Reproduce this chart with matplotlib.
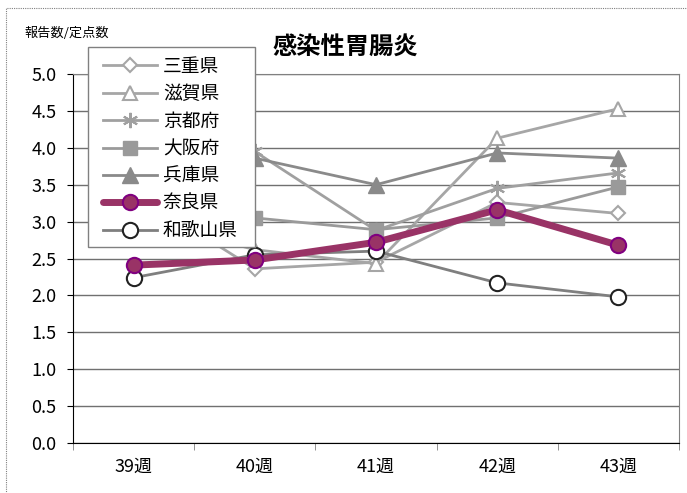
import matplotlib
matplotlib.use("Agg")
import matplotlib.pyplot as plt
from matplotlib.patches import Rectangle

plt.rcParams['font.family'] = ['Noto Sans CJK JP', 'DejaVu Sans']

weeks = ["39週", "40週", "41週", "42週", "43週"]
mie = [3.40, 2.36, 2.45, 3.26, 3.11]
shiga = [3.05, 2.62, 2.43, 4.13, 4.53]
kyoto = [3.30, 3.95, 2.88, 3.45, 3.66]
osaka = [3.10, 3.05, 2.89, 3.05, 3.47]
hyogo = [3.45, 3.86, 3.50, 3.93, 3.86]
nara = [2.41, 2.48, 2.72, 3.16, 2.68]
wakayama = [2.24, 2.55, 2.60, 2.17, 1.98]
labels = ["三重県", "滋賀県", "京都府", "大阪府", "兵庫県", "奈良県", "和歌山県"]
title = "感染性胃腸炎"
ylabel = "報告数/定点数"

W, H = 687, 493
fig = plt.figure(figsize=(W/100, H/100), dpi=100)
ax = fig.add_axes([73/W, 1-443/H, (679-73)/W, (443-74)/H])

x = list(range(len(weeks)))
ax.plot(x, mie, color='#a6a6a6', lw=2, marker='D', ms=7, mfc='white', mec='#a6a6a6', mew=1.5, label=labels[0], zorder=3)
ax.plot(x, shiga, color='#a6a6a6', lw=2, marker='^', ms=10, mfc='white', mec='#a6a6a6', mew=1.5, label=labels[1], zorder=3)
ax.plot(x, kyoto, color='#a0a0a0', lw=2, marker=(6, 2, 0), ms=11, mfc='#a0a0a0', mec='#a0a0a0', mew=1.5, label=labels[2], zorder=3)
ax.plot(x, osaka, color='#9a9a9a', lw=2, marker='s', ms=10, mfc='#9a9a9a', mec='#9a9a9a', label=labels[3], zorder=3)
ax.plot(x, hyogo, color='#8a8a8a', lw=2, marker='^', ms=11, mfc='#8a8a8a', mec='#8a8a8a', label=labels[4], zorder=3)
ax.plot(x, wakayama, color='#7f7f7f', lw=2, marker='o', ms=11, mfc='white', mec='#222222', mew=1.5, label=labels[6], zorder=4)
ax.plot(x, nara, color='#993366', lw=5, marker='o', ms=11, mfc='#993366', mec='#800080', mew=1.5, label=labels[5], zorder=5, solid_capstyle='round')

ax.set_xlim(-0.5, 4.5)
ax.set_ylim(0, 5)
ax.set_yticks([i * 0.5 for i in range(11)])
ax.set_yticklabels([f"{i*0.5:.1f}" for i in range(11)], fontsize=13)
ax.set_xticks(x)
ax.set_xticklabels(weeks, fontsize=13)
ax.set_xticks([i - 0.5 for i in range(6)], minor=True)
ax.tick_params(axis='x', which='major', length=0, pad=11)
ax.tick_params(axis='x', which='minor', length=5, color='#808080', direction='out')
ax.tick_params(axis='y', length=4, direction='out', pad=8)
ax.grid(axis='y', color='#707070', lw=1)
ax.set_axisbelow(True)
for s in ['top', 'right']:
    ax.spines[s].set_color('#808080')
ax.spines['left'].set_color('black')
ax.spines['bottom'].set_color('black')

fig.text(345/W, 1-48/H, title, fontsize=17.5, ha='center', va='center', fontweight='bold')
fig.text(25/W, 1-33/H, ylabel, fontsize=9.5, ha='left', va='center')

# legend box
box = Rectangle((88/W, 1-247/H), (255-88)/W, (247-47)/H, transform=fig.transFigure,
                fc='white', ec='#808080', lw=1, zorder=6)
fig.add_artist(box)

h, l = ax.get_legend_handles_labels()
order = [0, 1, 2, 3, 4, 6, 5]
leg = fig.legend([h[i] for i in order], [l[i] for i in order],
                 loc='upper left', bbox_to_anchor=(103/W, 1-56/H),
                 fontsize=13.5, frameon=False,
                 handlelength=2.9, handletextpad=0.3,
                 labelspacing=0.34, borderpad=0, borderaxespad=0)
leg.set_zorder(7)

fig.add_artist(Rectangle((6/W, -0.1), 1.1, 1 - 8/H + 0.1, transform=fig.transFigure,
                         fill=False, ls=(0, (1, 1)), lw=0.8, ec='#808080', zorder=8))

fig.savefig("out.png", dpi=100)
